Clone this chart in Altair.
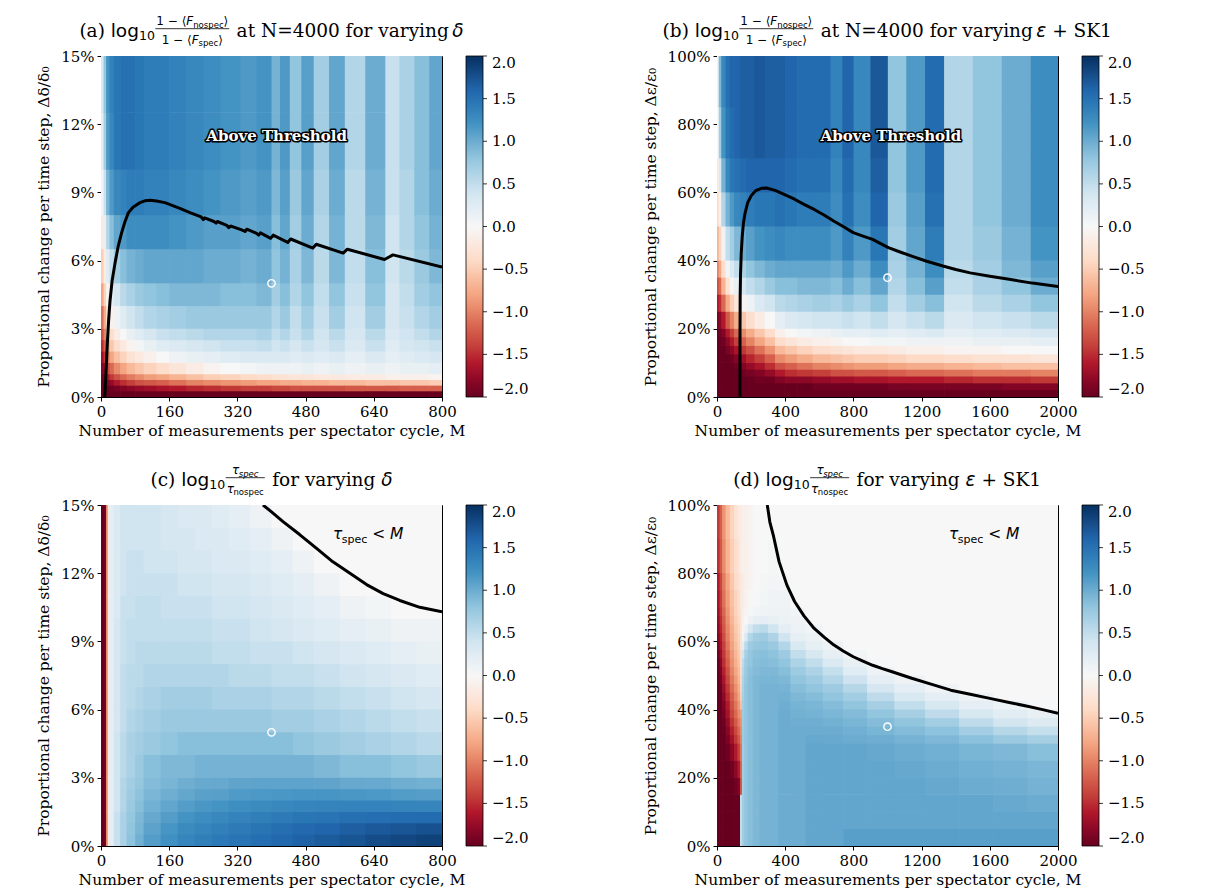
import altair as alt
import pandas as pd

SERIF = "DejaVu Serif"
SANS = "DejaVu Sans"

# ---------------- colour map (matplotlib RdBu) and colour-bar ticks ----------------
RDBU_COLORS = ["#67001f", "#b2182b", "#d6604d", "#f4a582", "#fddbc7", "#f7f7f7",
               "#d1e5f0", "#92c5de", "#4393c3", "#2166ac", "#053061"]
RDBU_STOPS = [-2.0, -1.6, -1.2, -0.8, -0.4, 0.0, 0.4, 0.8, 1.2, 1.6, 2.0]
CBAR_TICKS = [-2.0, -1.5, -1.0, -0.5, 0.0, 0.5, 1.0, 1.5, 2.0]

X_LABEL = "Number of measurements per spectator cycle, M"
Y_LABEL_DELTA = "Proportional change per time step, Δδ/δ₀"
Y_LABEL_EPS = "Proportional change per time step, Δε/ε₀"

DELTA_XTICKS = [0, 160, 320, 480, 640, 800]
DELTA_YTICKS = [0, 3, 6, 9, 12, 15]
EPS_XTICKS = [0, 400, 800, 1200, 1600, 2000]
EPS_YTICKS = [0, 20, 40, 60, 80, 100]

# ---------------- panel (a): log10 infidelity ratio, varying delta ----------------
A_X = [0, 6, 12, 20, 30, 45, 60, 80, 100, 130, 160, 200, 240, 280, 327, 365, 400, 420,
       443, 470, 499, 535, 572, 620, 667, 700, 735, 770, 800]
A_Y = [0, 0.25, 0.5, 0.75, 1, 1.5, 2, 2.5, 3, 4, 5, 6.5, 8, 10, 12.5, 15]
A_V = [  # one list per M-column, bottom -> top
    [-2, -2, -2, -1.95, -1.85, -1.7, -1.5, -1.3, -1.1, -0.8, -0.5, -0.2, 0.05, 0.2, 0.3],
    [-2, -2, -1.95, -1.85, -1.7, -1.45, -1.2, -1.0, -0.75, -0.45, -0.15, 0.15, 0.45, 0.7, 0.8],
    [-2, -2, -1.85, -1.65, -1.35, -1.05, -0.8, -0.55, -0.3, -0.05, 0.25, 0.6, 0.95, 1.15, 1.2],
    [-2, -1.95, -1.75, -1.45, -1.15, -0.8, -0.55, -0.35, -0.1, 0.2, 0.5, 0.85, 1.15, 1.3, 1.35],
    [-2, -1.9, -1.6, -1.3, -0.95, -0.6, -0.35, -0.15, 0.1, 0.35, 0.7, 1.05, 1.3, 1.45, 1.45],
    [-2, -1.85, -1.5, -1.15, -0.8, -0.45, -0.2, 0.0, 0.25, 0.55, 0.85, 1.15, 1.35, 1.5, 1.5],
    [-2, -1.8, -1.4, -1.05, -0.65, -0.3, -0.05, 0.15, 0.4, 0.65, 0.95, 1.25, 1.4, 1.5, 1.5],
    [-2, -1.75, -1.3, -0.95, -0.55, -0.2, 0.05, 0.25, 0.5, 0.75, 1.0, 1.25, 1.4, 1.45, 1.45],
    [-2, -1.7, -1.25, -0.85, -0.45, -0.1, 0.15, 0.35, 0.6, 0.8, 1.05, 1.25, 1.35, 1.4, 1.4],
    [-2, -1.65, -1.2, -0.8, -0.35, 0.0, 0.25, 0.45, 0.65, 0.85, 1.05, 1.25, 1.35, 1.4, 1.4],
    [-2, -1.6, -1.1, -0.7, -0.25, 0.1, 0.3, 0.5, 0.7, 0.9, 1.05, 1.2, 1.3, 1.35, 1.35],
    [-2, -1.55, -1.0, -0.6, -0.15, 0.15, 0.35, 0.55, 0.75, 0.9, 1.05, 1.15, 1.25, 1.3, 1.3],
    [-2, -1.5, -0.95, -0.5, -0.05, 0.2, 0.4, 0.6, 0.75, 0.9, 1.0, 1.1, 1.2, 1.25, 1.25],
    [-2, -1.45, -0.9, -0.45, 0.0, 0.25, 0.45, 0.6, 0.75, 0.85, 1.0, 1.1, 1.15, 1.2, 1.2],
    [-2, -1.4, -0.85, -0.4, 0.05, 0.3, 0.45, 0.6, 0.75, 0.85, 0.95, 1.05, 1.1, 1.15, 1.15],
    [-2, -1.4, -0.8, -0.35, 0.1, 0.3, 0.5, 0.65, 0.75, 0.9, 1.0, 1.1, 1.15, 1.2, 1.2],
    [-2, -1.35, -0.8, -0.3, 0.1, 0.3, 0.4, 0.5, 0.6, 0.7, 0.8, 0.85, 0.9, 0.95, 0.95],
    [-2, -1.35, -0.75, -0.3, 0.1, 0.3, 0.45, 0.6, 0.75, 0.85, 0.95, 1.05, 1.1, 1.15, 1.15],
    [-2, -1.3, -0.75, -0.25, 0.1, 0.25, 0.35, 0.45, 0.5, 0.6, 0.65, 0.7, 0.75, 0.8, 0.8],
    [-2, -1.3, -0.7, -0.25, 0.15, 0.3, 0.45, 0.6, 0.7, 0.8, 0.9, 1.0, 1.05, 1.1, 1.1],
    [-2, -1.3, -0.7, -0.2, 0.1, 0.25, 0.35, 0.4, 0.45, 0.5, 0.55, 0.6, 0.65, 0.7, 0.7],
    [-2, -1.3, -0.65, -0.2, 0.15, 0.3, 0.45, 0.55, 0.7, 0.8, 0.9, 0.95, 1.0, 1.05, 1.05],
    [-2, -1.25, -0.65, -0.15, 0.1, 0.2, 0.3, 0.35, 0.4, 0.45, 0.5, 0.55, 0.55, 0.6, 0.6],
    [-2, -1.25, -0.6, -0.15, 0.15, 0.3, 0.45, 0.55, 0.7, 0.8, 0.85, 0.9, 0.95, 1.0, 1.0],
    [-2, -1.25, -0.6, -0.1, 0.1, 0.2, 0.25, 0.3, 0.35, 0.35, 0.4, 0.4, 0.45, 0.45, 0.45],
    [-2, -1.2, -0.55, -0.1, 0.15, 0.25, 0.35, 0.4, 0.45, 0.5, 0.55, 0.6, 0.6, 0.65, 0.65],
    [-2, -1.2, -0.55, -0.1, 0.15, 0.3, 0.4, 0.5, 0.6, 0.7, 0.75, 0.8, 0.85, 0.85, 0.85],
    [-2, -1.2, -0.5, -0.05, 0.2, 0.35, 0.45, 0.6, 0.7, 0.8, 0.9, 0.95, 1.0, 1.05, 1.05],
]
A_CURVE_M = [9, 11, 13, 15, 18, 21, 26, 33, 40, 48, 56, 64, 75, 91, 103, 115, 130, 150, 185,
             210, 235, 240, 243, 265, 270, 273, 295, 300, 305, 330, 338, 342, 365, 370, 374,
             398, 404, 438, 445, 497, 505, 568, 578, 665, 685, 800]
A_CURVE_Y = [0, 0.8, 1.6, 2.4, 3.4, 4.2, 5.1, 5.9, 6.6, 7.2, 7.7, 8.1, 8.35, 8.55, 8.63, 8.65,
             8.62, 8.55, 8.3, 8.1, 7.92, 7.8, 7.88, 7.72, 7.65, 7.72, 7.55, 7.45, 7.52, 7.35,
             7.28, 7.38, 7.2, 7.12, 7.22, 6.98, 7.12, 6.8, 6.95, 6.55, 6.72, 6.33, 6.5, 6.05,
             6.25, 5.72]
A_MARK = (400, 5)
A_NOTE = (412, 11.5)

# ---------------- panel (b): log10 infidelity ratio, varying epsilon + SK1 ----------------
B_X = [0, 10, 25, 50, 75, 100, 135, 170, 220, 280, 340, 400, 470, 560, 666, 735, 801, 900,
       1002, 1110, 1220, 1332, 1500, 1670, 1840, 2000]
B_Y = [0, 2, 4, 6, 8, 10, 12.5, 15, 17.5, 20, 25, 30, 35, 40, 50, 60, 70, 85, 100]
B_V = [
    [-2, -2, -2, -2, -2, -2, -2, -2, -2, -1.9, -1.6, -1.3, -1.0, -0.7, -0.4, -0.2, 0.0, 0.1],
    [-2, -2, -2, -2, -2, -2, -2, -2, -1.95, -1.8, -1.5, -1.15, -0.8, -0.45, -0.1, 0.3, 0.7, 0.9],
    [-2, -2, -2, -2, -2, -2, -2, -1.95, -1.85, -1.6, -1.15, -0.7, -0.35, 0.1, 0.6, 0.95, 1.2, 1.3],
    [-2, -2, -2, -2, -2, -2, -1.9, -1.8, -1.6, -1.25, -0.75, -0.3, 0.05, 0.5, 0.95, 1.3, 1.45, 1.5],
    [-2, -2, -2, -2, -2, -1.95, -1.8, -1.6, -1.4, -1.0, -0.5, -0.05, 0.3, 0.7, 1.15, 1.45, 1.55, 1.6],
    [-2, -2, -2, -2, -1.95, -1.85, -1.65, -1.4, -1.15, -0.75, -0.25, 0.15, 0.5, 0.9, 1.3, 1.5, 1.6, 1.6],
    [-2, -2, -2, -1.95, -1.85, -1.7, -1.45, -1.2, -0.95, -0.55, -0.05, 0.35, 0.65, 1.0, 1.35, 1.55, 1.65, 1.65],
    [-2, -2, -2, -1.9, -1.75, -1.55, -1.3, -1.0, -0.75, -0.35, 0.1, 0.5, 0.8, 1.1, 1.4, 1.6, 1.65, 1.65],
    [-2, -2, -1.95, -1.85, -1.65, -1.4, -1.1, -0.8, -0.55, -0.15, 0.3, 0.6, 0.9, 1.2, 1.45, 1.6, 1.7, 1.7],
    [-2, -2, -1.95, -1.75, -1.5, -1.2, -0.9, -0.6, -0.35, 0.0, 0.4, 0.75, 1.0, 1.25, 1.45, 1.6, 1.65, 1.65],
    [-2, -2, -1.85, -1.6, -1.3, -0.95, -0.65, -0.35, -0.1, 0.2, 0.55, 0.85, 1.05, 1.3, 1.5, 1.6, 1.65, 1.65],
    [-2, -2, -1.8, -1.5, -1.2, -0.85, -0.55, -0.25, 0.0, 0.3, 0.6, 0.85, 1.05, 1.25, 1.45, 1.55, 1.6, 1.6],
    [-2, -2, -1.8, -1.45, -1.1, -0.75, -0.45, -0.15, 0.05, 0.35, 0.65, 0.9, 1.05, 1.25, 1.4, 1.5, 1.55, 1.55],
    [-2, -1.95, -1.75, -1.4, -1.0, -0.65, -0.35, -0.1, 0.1, 0.4, 0.7, 0.9, 1.05, 1.25, 1.4, 1.5, 1.55, 1.55],
    [-2, -1.95, -1.7, -1.3, -0.95, -0.6, -0.3, -0.05, 0.15, 0.4, 0.65, 0.85, 1.0, 1.15, 1.25, 1.3, 1.35, 1.35],
    [-2, -1.95, -1.7, -1.3, -0.9, -0.55, -0.25, 0.0, 0.2, 0.45, 0.75, 1.0, 1.15, 1.35, 1.5, 1.55, 1.6, 1.6],
    [-2, -1.95, -1.65, -1.25, -0.85, -0.5, -0.2, 0.0, 0.2, 0.4, 0.65, 0.85, 1.0, 1.15, 1.25, 1.3, 1.3, 1.3],
    [-2, -1.95, -1.65, -1.25, -0.85, -0.5, -0.2, 0.05, 0.25, 0.5, 0.8, 1.05, 1.25, 1.45, 1.6, 1.65, 1.7, 1.7],
    [-2, -1.9, -1.6, -1.2, -0.8, -0.45, -0.15, 0.05, 0.2, 0.35, 0.5, 0.6, 0.65, 0.7, 0.75, 0.8, 0.8, 0.8],
    [-2, -1.9, -1.6, -1.15, -0.75, -0.4, -0.1, 0.1, 0.25, 0.45, 0.7, 0.85, 0.95, 1.05, 1.1, 1.15, 1.15, 1.15],
    [-2, -1.9, -1.6, -1.15, -0.75, -0.4, -0.1, 0.1, 0.3, 0.55, 0.85, 1.1, 1.25, 1.4, 1.5, 1.55, 1.55, 1.55],
    [-2, -1.9, -1.55, -1.1, -0.7, -0.35, -0.05, 0.1, 0.2, 0.3, 0.4, 0.5, 0.55, 0.6, 0.6, 0.6, 0.6, 0.6],
    [-2, -1.9, -1.5, -1.05, -0.65, -0.3, -0.05, 0.15, 0.25, 0.4, 0.55, 0.65, 0.7, 0.75, 0.8, 0.8, 0.8, 0.8],
    [-2, -1.85, -1.5, -1.05, -0.6, -0.3, 0.0, 0.15, 0.3, 0.45, 0.65, 0.8, 0.9, 0.95, 1.0, 1.0, 1.0, 1.0],
    [-2, -1.85, -1.45, -1.0, -0.6, -0.25, 0.0, 0.2, 0.35, 0.55, 0.8, 1.0, 1.1, 1.2, 1.25, 1.25, 1.25, 1.25],
]
B_CURVE_M = [135, 135, 136, 138, 142, 148, 155, 165, 180, 200, 227, 260, 290, 341, 400, 455,
             510, 570, 630, 684, 740, 799, 856, 913, 960, 1005, 1070, 1142, 1230, 1325, 1400,
             1485, 1600, 1714, 1850, 2000]
B_CURVE_Y = [0, 20, 30, 36, 42, 47, 51, 54, 57, 59, 60.5, 61.2, 61.3, 60.6, 59.3, 58, 56.5,
             55, 53.3, 51.6, 50, 48.2, 47.2, 46.2, 45, 43.8, 42.6, 41.3, 39.8, 38.4, 37.4,
             36.4, 35.4, 34.5, 33.4, 32.4]
B_MARK = (1000, 35)
B_NOTE = (1020, 76.5)

# ---------------- panel (c): log10 tau ratio, varying delta ----------------
C_X = [0, 4, 8, 12, 16, 20, 30, 45, 60, 80, 100, 140, 180, 220, 260, 300, 350, 400, 450,
       500, 560, 620, 680, 740, 800]
C_Y = [0, 0.5, 1, 1.5, 2, 2.5, 3, 4, 5, 6, 7, 8, 9, 10, 11, 12, 13, 14, 15]
C_V = [
    [-2, -2, -2, -2, -2, -2, -2, -2, -2, -2, -2, -2, -2, -2, -2, -2, -2, -2],
    [-2, -2, -2, -2, -2, -2, -2, -2, -2, -2, -2, -2, -2, -2, -2, -2, -2, -2],
    [-1.9, -1.9, -1.9, -1.9, -1.9, -1.9, -1.9, -1.9, -1.9, -1.9, -1.9, -1.9, -1.9, -1.9, -1.9, -1.9, -1.9, -1.9],
    [-0.9, -0.9, -0.9, -0.9, -0.9, -0.9, -0.9, -0.9, -0.9, -0.9, -0.9, -0.9, -0.9, -0.9, -0.9, -0.9, -0.9, -0.9],
    [-0.2, -0.2, -0.2, -0.2, -0.2, -0.2, -0.2, -0.2, -0.2, -0.2, -0.2, -0.2, -0.2, -0.2, -0.2, -0.2, -0.2, -0.2],
    [0.2, 0.2, 0.2, 0.2, 0.2, 0.2, 0.2, 0.2, 0.2, 0.2, 0.2, 0.2, 0.2, 0.2, 0.2, 0.2, 0.2, 0.2],
    [0.45, 0.45, 0.45, 0.4, 0.4, 0.4, 0.4, 0.4, 0.35, 0.35, 0.35, 0.35, 0.35, 0.3, 0.3, 0.3, 0.3, 0.3],
    [0.65, 0.65, 0.65, 0.6, 0.6, 0.6, 0.55, 0.55, 0.5, 0.5, 0.5, 0.45, 0.45, 0.45, 0.4, 0.4, 0.4, 0.4],
    [0.82, 0.8, 0.78, 0.75, 0.72, 0.7, 0.65, 0.65, 0.6, 0.55, 0.55, 0.5, 0.5, 0.45, 0.45, 0.45, 0.4, 0.4],
    [0.97, 0.93, 0.9, 0.86, 0.82, 0.78, 0.75, 0.7, 0.65, 0.6, 0.55, 0.55, 0.5, 0.5, 0.45, 0.45, 0.4, 0.4],
    [1.12, 1.08, 1.03, 0.97, 0.92, 0.88, 0.85, 0.75, 0.7, 0.65, 0.6, 0.55, 0.5, 0.5, 0.45, 0.4, 0.4, 0.4],
    [1.23, 1.18, 1.12, 1.05, 0.98, 0.93, 0.9, 0.8, 0.75, 0.7, 0.6, 0.55, 0.5, 0.45, 0.45, 0.4, 0.35, 0.35],
    [1.32, 1.27, 1.2, 1.12, 1.04, 0.98, 0.9, 0.85, 0.75, 0.7, 0.6, 0.55, 0.5, 0.45, 0.4, 0.35, 0.35, 0.3],
    [1.38, 1.32, 1.25, 1.17, 1.09, 1.02, 0.95, 0.85, 0.75, 0.7, 0.6, 0.55, 0.5, 0.45, 0.4, 0.35, 0.3, 0.3],
    [1.43, 1.37, 1.3, 1.2, 1.1, 1.03, 0.95, 0.85, 0.75, 0.65, 0.6, 0.5, 0.45, 0.4, 0.35, 0.3, 0.3, 0.25],
    [1.48, 1.42, 1.34, 1.24, 1.14, 1.06, 0.95, 0.85, 0.75, 0.65, 0.55, 0.5, 0.45, 0.4, 0.35, 0.3, 0.25, 0.2],
    [1.53, 1.47, 1.38, 1.27, 1.16, 1.07, 0.95, 0.85, 0.75, 0.65, 0.55, 0.45, 0.4, 0.35, 0.3, 0.25, 0.2, 0.1],
    [1.58, 1.52, 1.42, 1.3, 1.17, 1.07, 0.95, 0.85, 0.7, 0.6, 0.5, 0.45, 0.35, 0.3, 0.25, 0.2, 0.1, 0.0],
    [1.63, 1.57, 1.46, 1.32, 1.18, 1.07, 0.95, 0.8, 0.7, 0.6, 0.5, 0.4, 0.3, 0.25, 0.2, 0.1, 0.0, 0.0],
    [1.68, 1.6, 1.48, 1.33, 1.18, 1.06, 0.9, 0.75, 0.65, 0.55, 0.45, 0.35, 0.25, 0.2, 0.1, 0.0, 0.0, 0.0],
    [1.73, 1.65, 1.51, 1.34, 1.17, 1.03, 0.85, 0.7, 0.6, 0.5, 0.4, 0.3, 0.2, 0.1, 0.0, 0.0, 0.0, 0.0],
    [1.78, 1.69, 1.53, 1.34, 1.16, 1.02, 0.85, 0.65, 0.55, 0.45, 0.35, 0.25, 0.15, 0.05, 0.0, 0.0, 0.0, 0.0],
    [1.82, 1.72, 1.54, 1.33, 1.13, 0.98, 0.8, 0.6, 0.5, 0.4, 0.3, 0.2, 0.1, 0.0, 0.0, 0.0, 0.0, 0.0],
    [1.86, 1.75, 1.55, 1.32, 1.11, 0.96, 0.75, 0.55, 0.45, 0.35, 0.25, 0.15, 0.1, 0.0, 0.0, 0.0, 0.0, 0.0],
]
C_CURVE_M = [380, 400, 427, 466, 505, 544, 584, 623, 662, 701, 748, 800]
C_CURVE_Y = [15, 14.7, 14.27, 13.7, 13.1, 12.5, 12.0, 11.5, 11.1, 10.8, 10.5, 10.3]
C_MARK = (400, 5)

# ---------------- panel (d): log10 tau ratio, varying epsilon + SK1 ----------------
D_X = [0, 15, 30, 50, 75, 100, 120, 135, 146, 160, 180, 210, 250, 300, 360, 430, 520, 620,
       740, 880, 1040, 1220, 1420, 1620, 1820, 2000]
D_Y = [0, 5, 10, 15, 20, 25, 30, 32.5, 35, 37.5, 40, 42.5, 45, 47.5, 50, 52.5, 55, 57.5,
       60, 62.5, 65, 67.5, 70, 75, 80, 90, 100]
D_V = [
    [-2, -2, -2, -2, -2, -2, -2, -2, -2, -2, -2, -2, -2, -2, -2, -2,
     -1.95, -1.9, -1.85, -1.8, -1.75, -1.7, -1.65, -1.6, -1.5, -1.45],
    [-2, -2, -2, -2, -2, -2, -2, -2, -2, -2, -2, -2, -1.97, -1.93, -1.88, -1.8,
     -1.72, -1.65, -1.6, -1.55, -1.5, -1.45, -1.4, -1.35, -1.25, -1.2],
    [-2, -2, -2, -2, -2, -2, -2, -2, -1.97, -1.93, -1.87, -1.8, -1.72, -1.65, -1.57, -1.5,
     -1.45, -1.4, -1.33, -1.27, -1.22, -1.17, -1.1, -1.05, -0.95, -0.9],
    [-2, -2, -2, -2, -2, -1.95, -1.88, -1.82, -1.75, -1.67, -1.6, -1.52, -1.45, -1.37, -1.3, -1.22,
     -1.15, -1.08, -1.02, -0.98, -0.93, -0.89, -0.85, -0.8, -0.7, -0.65],
    [-2, -2, -2, -2, -1.95, -1.8, -1.67, -1.57, -1.47, -1.37, -1.3, -1.22, -1.14, -1.06, -0.99, -0.92,
     -0.87, -0.82, -0.77, -0.73, -0.68, -0.64, -0.6, -0.55, -0.5, -0.45],
    [-2, -2, -2, -1.95, -1.8, -1.6, -1.45, -1.35, -1.25, -1.15, -1.08, -1.0, -0.93, -0.86, -0.79, -0.72,
     -0.67, -0.62, -0.57, -0.53, -0.5, -0.47, -0.45, -0.4, -0.35, -0.3],
    [-2, -2, -2, -1.85, -1.6, -1.4, -1.25, -1.15, -1.05, -0.95, -0.88, -0.8, -0.73, -0.67, -0.62, -0.57,
     -0.52, -0.48, -0.46, -0.43, -0.4, -0.37, -0.35, -0.3, -0.25, -0.2],
    [0.5, 0.5, 0.5, -1.3, -1.2, -1.1, -1.02, -0.97, -0.92, -0.85, -0.6, -0.5, -0.45, -0.42, -0.4, -0.37,
     -0.35, -0.32, -0.3, -0.28, -0.25, -0.22, -0.2, -0.2, -0.15, -0.15],
    [0.7, 0.7, 0.7, 0.7, 0.7, 0.7, 0.72, 0.72, 0.72, 0.72, 0.7, 0.68, 0.65, 0.62, 0.58, 0.52,
     0.4, 0.2, 0.05, -0.05, -0.1, -0.12, -0.15, -0.15, -0.1, -0.1],
    [0.8, 0.8, 0.8, 0.8, 0.8, 0.8, 0.8, 0.8, 0.8, 0.8, 0.8, 0.8, 0.8, 0.78, 0.75, 0.72,
     0.67, 0.55, 0.3, 0.1, 0.0, -0.05, -0.08, -0.1, -0.1, -0.1],
    [0.85, 0.85, 0.85, 0.85, 0.85, 0.85, 0.85, 0.85, 0.85, 0.85, 0.85, 0.85, 0.85, 0.85, 0.83, 0.8,
     0.77, 0.72, 0.6, 0.35, 0.1, 0.02, -0.02, -0.05, -0.05, -0.05],
    [0.9, 0.9, 0.9, 0.9, 0.9, 0.9, 0.9, 0.9, 0.9, 0.9, 0.9, 0.9, 0.9, 0.9, 0.88, 0.86,
     0.83, 0.78, 0.7, 0.5, 0.18, 0.06, 0.02, 0.0, 0.0, 0.0],
    [0.95, 0.95, 0.95, 0.95, 0.95, 0.95, 0.95, 0.95, 0.95, 0.95, 0.95, 0.95, 0.95, 0.93, 0.9, 0.88,
     0.85, 0.8, 0.72, 0.55, 0.2, 0.08, 0.05, 0.03, 0.01, 0.0],
    [0.95, 0.95, 0.95, 0.95, 0.95, 0.95, 0.95, 0.95, 0.95, 0.95, 0.95, 0.95, 0.95, 0.93, 0.9, 0.86,
     0.82, 0.75, 0.62, 0.4, 0.15, 0.1, 0.08, 0.05, 0.03, 0.0],
    [1.0, 1.0, 1.0, 1.0, 1.0, 1.0, 1.0, 1.0, 1.0, 1.0, 0.98, 0.96, 0.94, 0.9, 0.86, 0.8,
     0.72, 0.6, 0.4, 0.2, 0.13, 0.1, 0.08, 0.04, 0.0, 0.0],
    [1.0, 1.0, 1.0, 1.0, 1.0, 1.0, 1.0, 1.0, 0.98, 0.96, 0.94, 0.9, 0.86, 0.8, 0.73, 0.63,
     0.5, 0.32, 0.18, 0.13, 0.1, 0.06, 0.0, 0.0, 0.0, 0.0],
    [1.05, 1.05, 1.05, 1.05, 1.05, 1.05, 1.03, 1.0, 0.98, 0.95, 0.92, 0.87, 0.8, 0.72, 0.62, 0.5,
     0.33, 0.18, 0.13, 0.06, 0.0, 0.0, 0.0, 0.0, 0.0, 0.0],
    [1.05, 1.05, 1.05, 1.05, 1.05, 1.05, 1.02, 1.0, 0.96, 0.92, 0.87, 0.8, 0.72, 0.6, 0.48, 0.3,
     0.17, 0.1, 0.0, 0.0, 0.0, 0.0, 0.0, 0.0, 0.0, 0.0],
    [1.1, 1.05, 1.05, 1.05, 1.05, 1.05, 1.0, 0.97, 0.93, 0.88, 0.8, 0.7, 0.58, 0.42, 0.25, 0.15,
     0.05, 0.0, 0.0, 0.0, 0.0, 0.0, 0.0, 0.0, 0.0, 0.0],
    [1.1, 1.05, 1.05, 1.05, 1.05, 1.03, 0.98, 0.93, 0.87, 0.8, 0.68, 0.52, 0.35, 0.2, 0.12, 0.02,
     0.0, 0.0, 0.0, 0.0, 0.0, 0.0, 0.0, 0.0, 0.0, 0.0],
    [1.1, 1.05, 1.05, 1.05, 1.03, 1.0, 0.95, 0.88, 0.8, 0.68, 0.5, 0.32, 0.2, 0.1, 0.0, 0.0,
     0.0, 0.0, 0.0, 0.0, 0.0, 0.0, 0.0, 0.0, 0.0, 0.0],
    [1.1, 1.05, 1.05, 1.03, 1.0, 0.97, 0.9, 0.82, 0.7, 0.52, 0.33, 0.2, 0.08, 0.0, 0.0, 0.0,
     0.0, 0.0, 0.0, 0.0, 0.0, 0.0, 0.0, 0.0, 0.0, 0.0],
    [1.1, 1.05, 1.05, 1.0, 0.97, 0.93, 0.83, 0.7, 0.52, 0.33, 0.2, 0.1, 0.0, 0.0, 0.0, 0.0,
     0.0, 0.0, 0.0, 0.0, 0.0, 0.0, 0.0, 0.0, 0.0, 0.0],
    [1.1, 1.05, 1.02, 0.98, 0.95, 0.9, 0.75, 0.58, 0.38, 0.22, 0.12, 0.0, 0.0, 0.0, 0.0, 0.0,
     0.0, 0.0, 0.0, 0.0, 0.0, 0.0, 0.0, 0.0, 0.0, 0.0],
    [1.1, 1.05, 1.0, 0.95, 0.92, 0.85, 0.68, 0.48, 0.28, 0.15, 0.02, 0.0, 0.0, 0.0, 0.0, 0.0,
     0.0, 0.0, 0.0, 0.0, 0.0, 0.0, 0.0, 0.0, 0.0, 0.0],
]
D_CURVE_M = [295, 310, 330, 364, 410, 455, 510, 570, 630, 684, 740, 799, 856, 913, 970, 1027,
             1142, 1260, 1371, 1485, 1600, 1714, 1828, 1910, 2000]
D_CURVE_Y = [100, 95, 91.2, 83.4, 76.5, 71.7, 67.5, 63.8, 61.2, 59, 57.2, 55.5, 54.2, 53, 52,
             51.1, 49.2, 47.4, 45.7, 44.5, 43.3, 42.1, 40.9, 40, 38.9]
D_MARK = (1000, 35)

# ---------------- drawing helpers ----------------
W = H = 341
CB_GAP, CB_W = 24, 17
ONE = pd.DataFrame({"k": [0]})

SANS_W = {" ": .318, "(": .39, ")": .39, "l": .278, "o": .612, "g": .635, "1": .636, "0": .636,
          "−": .838, "⟨": .39, "⟩": .39, "F": .575, "n": .634, "s": .521, "p": .635, "e": .615,
          "c": .55, "δ": .612, "ε": .541, "τ": .56, "<": .838, "M": .863}
SERIF_W = {" ": .318, "(": .39, ")": .39, "a": .596, "b": .64, "c": .56, "d": .64, "t": .402,
           "N": .748, "=": .838, "4": .636, "0": .636, "1": .636, "f": .37, "o": .602, "r": .478,
           "v": .565, "y": .565, "i": .32, "n": .644, "g": .64, "+": .838, "S": .685, "K": .776}


def text_w(s, font, size):
    table = SANS_W if font == SANS else SERIF_W
    return sum(table.get(ch, 0.6) for ch in s) * size


def token_mark(s, font, style, size, px, py, weight="normal"):
    return alt.Chart(ONE).mark_text(
        text=s, font=font, fontStyle=style, fontSize=size, fontWeight=weight,
        align="left", baseline="alphabetic", color="black"
    ).encode(x=alt.value(px), y=alt.value(py))


def composite(items, cx, base, num_base, den_base, bar_y):
    placed, bars = [], []
    x = 0.0
    for it in items:
        if it[0] == "t":
            _, s, font, style, size, dy = it
            lead = len(s) - len(s.lstrip(" "))
            placed.append((s.strip(" "), font, style, size, x + text_w(" " * lead, font, size), base + dy))
            x += text_w(s, font, size)
        else:
            _, num, den = it
            wn = sum(text_w(t[0], t[1], t[3]) for t in num)
            wd = sum(text_w(t[0], t[1], t[3]) for t in den)
            w = max(wn, wd) + 3
            for toks, wt, b in ((num, wn, num_base), (den, wd, den_base)):
                xx = x + (w - wt) / 2
                for s, font, style, size, dy in toks:
                    placed.append((s, font, style, size, xx, b + dy))
                    xx += text_w(s, font, size)
            bars.append((x + 0.5, x + w - 0.5))
            x += w + 1
    shift = cx - x / 2
    layers = [token_mark(s, f, st, sz, px + shift, py) for s, f, st, sz, px, py in placed]
    for x1, x2 in bars:
        layers.append(alt.Chart(ONE).mark_rule(color="black", strokeWidth=0.8).encode(
            x=alt.value(x1 + shift), x2=alt.value(x2 + shift), y=alt.value(bar_y)))
    return layers


def fid_frac():
    num = [("1 − ⟨", SANS, "normal", 12, 0), ("F", SANS, "italic", 12, 0),
           ("nospec", SANS, "normal", 8.5, 2.5), ("⟩", SANS, "normal", 12, 0)]
    den = [("1 − ⟨", SANS, "normal", 12, 0), ("F", SANS, "italic", 12, 0),
           ("spec", SANS, "normal", 8.5, 2.5), ("⟩", SANS, "normal", 12, 0)]
    return ("frac", num, den)


def tau_frac():
    num = [("τ", SANS, "italic", 12, 0), ("spec", SANS, "italic", 8.5, 2.5)]
    den = [("τ", SANS, "italic", 12, 0), ("nospec", SANS, "normal", 8.5, 2.5)]
    return ("frac", num, den)


TS = 18.5


def title_items(letter, frac, middle, symbol, tail):
    items = [("t", f"({letter}) ", SERIF, "normal", TS, 0),
             ("t", "log", SANS, "normal", TS, 0),
             ("t", "10", SANS, "normal", 12.5, 2.5),
             frac,
             ("t", middle, SERIF, "normal", TS, 0),
             ("t", symbol, SANS, "italic", TS, 0)]
    if tail:
        items.append(("t", tail, SERIF, "normal", TS, 0))
    return items


def panel(xe, ye, cols, xdom, ydom, xticks, yticks, ylabel, cx, cy, mark, titems,
          note=None, tau_note=False):
    xs = alt.Scale(domain=xdom, nice=False, zero=False)
    ys = alt.Scale(domain=ydom, nice=False, zero=False)
    cs = alt.Scale(domain=RDBU_STOPS, range=RDBU_COLORS, clamp=True)

    def X(field):
        return alt.X(field, scale=xs, title=X_LABEL,
                     axis=alt.Axis(values=xticks, format="d", labelFlush=False,
                                   labelOverlap=False))

    def Y(field):
        return alt.Y(field, scale=ys, title=ylabel,
                     axis=alt.Axis(values=yticks, labelExpr="datum.value + '%'",
                                   labelFlush=False, labelOverlap=False, titlePadding=9))

    recs = []
    for i, col in enumerate(cols):
        for j, v in enumerate(col):
            recs.append({"x0": xe[i], "x1": xe[i + 1], "y0": ye[j], "y1": ye[j + 1], "v": v})
    heat = alt.Chart(pd.DataFrame(recs)).mark_rect(
        x2Offset=0.7, y2Offset=-0.7, clip=True, strokeWidth=0
    ).encode(
        x=X("x0:Q"), x2="x1:Q", y=Y("y0:Q"), y2="y1:Q",
        color=alt.Color("v:Q", scale=cs, legend=alt.Legend(
            type="gradient", orient="none", legendX=W + CB_GAP, legendY=0,
            direction="vertical", gradientLength=H, gradientThickness=CB_W,
            values=CBAR_TICKS, format=".1f", title=None, labelFont=SERIF,
            labelFontSize=15, labelColor="black", labelOffset=9,
            gradientStrokeColor="black", gradientStrokeWidth=0.8, labelOverlap=False)),
    )
    cdf = pd.DataFrame({"m": cx, "y": cy, "i": list(range(len(cx)))})
    line = alt.Chart(cdf).mark_line(color="black", strokeWidth=3, clip=True,
                                    strokeJoin="round").encode(
        x=X("m:Q"), y=Y("y:Q"), order="i:Q")
    pdf = pd.DataFrame({"m": [mark[0]], "y": [mark[1]]})
    point = alt.Chart(pdf).mark_point(shape="circle", filled=False, color="white",
                                      strokeWidth=1.4, size=55, opacity=1).encode(
        x=X("m:Q"), y=Y("y:Q"))
    layers = [heat, line, point]
    if note:
        ndf = pd.DataFrame({"m": [note[0]], "y": [note[1]], "t": ["Above Threshold"]})
        common = dict(font=SERIF, fontWeight="bold", fontSize=15, align="center",
                      baseline="middle")
        layers.append(alt.Chart(ndf).mark_text(color="black", stroke="black",
                                               strokeWidth=3.2, strokeJoin="round",
                                               **common).encode(
            x=X("m:Q"), y=Y("y:Q"), text="t:N"))
        layers.append(alt.Chart(ndf).mark_text(color="white", **common).encode(
            x=X("m:Q"), y=Y("y:Q"), text="t:N"))
    if tau_note:
        x0, b = 232, 34
        layers.append(token_mark("τ", SANS, "italic", 15.5, x0, b))
        x1 = x0 + text_w("τ", SANS, 15.5)
        layers.append(token_mark("spec", SANS, "normal", 11, x1, b + 3.5))
        x2 = x1 + text_w("spec", SANS, 11) + text_w(" ", SANS, 15.5)
        layers.append(token_mark("<", SANS, "normal", 15.5, x2, b))
        x3 = x2 + text_w("< ", SANS, 15.5)
        layers.append(token_mark("M", SANS, "italic", 15.5, x3, b))
    # small outward tick marks on the colour bar (decoration next to the legend labels)
    for t in CBAR_TICKS:
        ty = H * (2.0 - t) / 4.0
        layers.append(alt.Chart(ONE).mark_rule(color="black", strokeWidth=0.8).encode(
            x=alt.value(W + CB_GAP + CB_W), x2=alt.value(W + CB_GAP + CB_W + 4),
            y=alt.value(ty)))
    layers += composite(titems, W / 2, -19, -30.7, -12.3, -27.3)
    return alt.layer(*layers).properties(width=W, height=H)


pa = panel(A_X, A_Y, A_V, [0, 800], [0, 15], DELTA_XTICKS, DELTA_YTICKS, Y_LABEL_DELTA,
           A_CURVE_M, A_CURVE_Y, A_MARK,
           title_items("a", fid_frac(), " at N=4000 for varying ", "δ", None), note=A_NOTE)
pb = panel(B_X, B_Y, B_V, [0, 2000], [0, 100], EPS_XTICKS, EPS_YTICKS, Y_LABEL_EPS,
           B_CURVE_M, B_CURVE_Y, B_MARK,
           title_items("b", fid_frac(), " at N=4000 for varying ", "ε", " + SK1"), note=B_NOTE)
pc = panel(C_X, C_Y, C_V, [0, 800], [0, 15], DELTA_XTICKS, DELTA_YTICKS, Y_LABEL_DELTA,
           C_CURVE_M, C_CURVE_Y, C_MARK,
           title_items("c", tau_frac(), " for varying ", "δ", None), tau_note=True)
pd_ = panel(D_X, D_Y, D_V, [0, 2000], [0, 100], EPS_XTICKS, EPS_YTICKS, Y_LABEL_EPS,
            D_CURVE_M, D_CURVE_Y, D_MARK,
            title_items("d", tau_frac(), " for varying ", "ε", " + SK1"), tau_note=True)

chart = alt.concat(pa, pb, pc, pd_, columns=2, spacing={"row": 108, "column": 275},
                   bounds="flush").resolve_scale(color="independent")

chart = chart.properties(
    padding={"left": 36, "top": 14, "right": 5, "bottom": 5}
).configure(background="white").configure_view(
    stroke="black", strokeWidth=1
).configure_axis(
    domain=True, domainColor="black", domainWidth=1, tickColor="black", tickSize=4,
    tickWidth=1, labelFont=SERIF, labelFontSize=15, labelColor="black", labelPadding=3,
    titleFont=SERIF, titleFontSize=15.5, titleFontWeight="normal", titleColor="black",
    grid=False
)

chart.save("out.html", embed_options={"renderer": "svg", "actions": False})
